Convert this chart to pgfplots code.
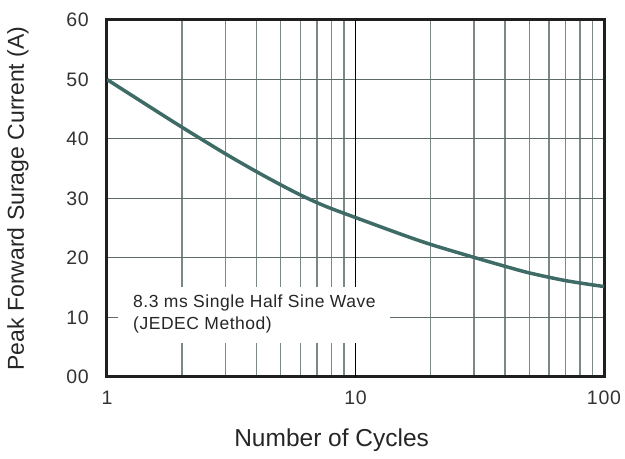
\documentclass[border=0pt]{standalone}
\usepackage{pgfplots}
\pgfplotsset{compat=1.18}
\usepackage{fontspec}
\setmainfont{Liberation Sans}
\definecolor{curve}{HTML}{3E6B66}
\definecolor{gridc}{HTML}{5F6B69}
\definecolor{minorc}{HTML}{7A8886}
\begin{document}
\begin{tikzpicture}
\begin{axis}[
  name=ax,
  xmode=log,
  scale only axis,
  width=497pt, height=357pt,
  xmin=1, xmax=100, ymin=0, ymax=60,
  xtick={1,10,100}, xticklabels={1,10,100},
  ytick={0,10,20,30,40,50,60}, yticklabels={00,10,20,30,40,50,60},
  major tick length=0pt, minor tick length=0pt,
  xmajorgrids, xminorgrids, ymajorgrids,
  major grid style={draw=gridc, line width=1pt},
  minor grid style={draw=minorc, line width=1.4pt},
  axis line style={draw=black!88, line width=3pt},
  /pgf/number format/assume math mode=true,
  tick label style={font=\fontsize{19.5}{21}\selectfont\addfontfeatures{LetterSpace=4}, text=black!80},
  yticklabel style={anchor=east, inner sep=0pt, xshift=-18pt},
  xticklabel style={anchor=north, inner sep=0pt, yshift=-14pt},
  xlabel={Number of Cycles},
  ylabel={Peak Forward Surage Current (A)},
  label style={text=black!85},
  xlabel style={font=\fontsize{24.5}{26}\selectfont, at={(axis description cs:0.452,-0.176)}, anchor=center},
  ylabel style={font=\fontsize{23}{26}\selectfont, at={(axis description cs:-0.179,0.5)}, anchor=center},
]
\addplot[draw=black, line width=1pt, forget plot] coordinates {(10,0) (10,60)};
\addplot[curve, line width=3.5pt, smooth] coordinates {
(1,50) (1.5,45.3) (2,42.0) (3,37.5) (4,34.5) (5,32.3) (6,30.6) (7,29.3) (8,28.3) (10,26.8)
(15,24.1) (20,22.3) (30,20.1) (40,18.6) (50,17.5) (70,16.2) (100,15.2)};
\node[fill=white, anchor=north west, inner sep=0pt, minimum width=272pt, minimum height=56pt] at (axis cs:1.107,15.1) {};
\node[anchor=west, align=left, inner sep=0pt, font=\fontsize{17.5}{22}\selectfont\addfontfeatures{LetterSpace=3}, text=black!85] at (axis cs:1.273,10.6) {8.3 ms Single Half Sine Wave\\(JEDEC Method)};
\end{axis}
\pgfresetboundingbox
\path[use as bounding box] ([shift={(-107pt,-82pt)}]ax.south west) rectangle ([shift={(21pt,20pt)}]ax.north east);
\end{tikzpicture}
\end{document}
